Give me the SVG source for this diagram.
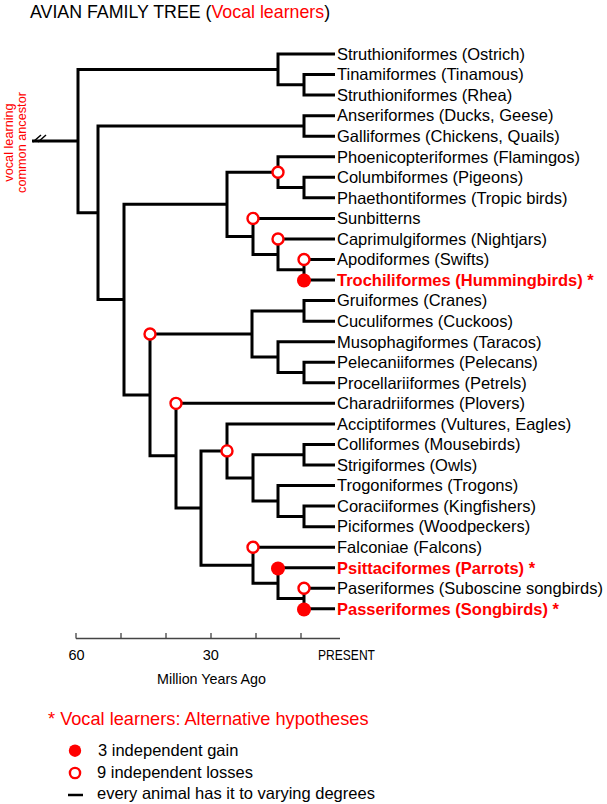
<svg xmlns="http://www.w3.org/2000/svg" width="607" height="804" viewBox="0 0 607 804">
<style>
.br{fill:none;stroke:#000;stroke-width:3;stroke-linejoin:miter}
.t{font-family:"Liberation Sans",Arial,sans-serif;font-size:16.5px;fill:#000}
.v{font-family:"Liberation Sans",Arial,sans-serif;font-size:16.5px;font-weight:bold;fill:#ff0000}
.loss{fill:#fff;stroke:#ff0000;stroke-width:2.4}
.gain{fill:#ff0000}
.red{fill:#ff0000}
.sans{font-family:"Liberation Sans",Arial,sans-serif}
</style>
<rect width="607" height="804" fill="#fff"/>
<text x="30" y="17.5" class="sans" font-size="17.8" fill="#000">AVIAN FAMILY TREE (<tspan class="red">Vocal learners</tspan>)</text>
<g id="ancestor-label" class="sans red" font-size="12.7" text-anchor="middle">
<text transform="translate(12.5,142.5) rotate(-90)">vocal learning</text>
<text transform="translate(26,142.5) rotate(-90)">common ancestor</text>
</g>
<g id="connectors">
<path class="br" d="M32 141.1 H78"/>
<path fill="none" stroke="#000" stroke-width="1.5" d="M33 142 L41 135 M38 142 L46 135"/>
<path class="br" d="M278 69.4 H78 V212.8 H98"/>
<path class="br" d="M335 54 H278 V84.8 H304"/>
<path class="br" d="M335 74.55 H304 V95.1 H335"/>
<path class="br" d="M304 125.9 H98 V299.6 H124"/>
<path class="br" d="M335 115.65 H304 V136.2 H335"/>
<path class="br" d="M227 204.3 H124 V394.9 H150"/>
<path class="br" d="M278 172.2 H227 V236.4 H253"/>
<path class="br" d="M335 156.75 H278 V187.6 H304"/>
<path class="br" d="M335 177.3 H304 V197.85 H335"/>
<path class="br" d="M335 218.4 H253 V254.4 H278"/>
<path class="br" d="M335 238.95 H278 V269.8 H304"/>
<path class="br" d="M335 259.5 H304 V280.05 H335"/>
<path class="br" d="M252 334 H150 V455.7 H176"/>
<path class="br" d="M304 310.9 H252 V357.1 H278"/>
<path class="br" d="M335 300.6 H304 V321.15 H335"/>
<path class="br" d="M335 341.7 H278 V372.5 H304"/>
<path class="br" d="M335 362.25 H304 V382.8 H335"/>
<path class="br" d="M335 403.35 H176 V508 H201"/>
<path class="br" d="M227 450.9 H201 V565.2 H253"/>
<path class="br" d="M335 423.9 H227 V477.9 H253"/>
<path class="br" d="M304 454.7 H253 V501 H278"/>
<path class="br" d="M335 444.45 H304 V465 H335"/>
<path class="br" d="M335 485.55 H278 V516.4 H304"/>
<path class="br" d="M335 506.1 H304 V526.65 H335"/>
<path class="br" d="M335 547.2 H253 V583.2 H278"/>
<path class="br" d="M335 567.75 H278 V598.6 H304"/>
<path class="br" d="M335 588.3 H304 V608.85 H335"/>
</g>
<g id="events">
<g id="loss-1"><circle class="loss" cx="278" cy="172.2" r="5.5"/></g>
<g id="loss-2"><circle class="loss" cx="253" cy="218.4" r="5.5"/></g>
<g id="loss-3"><circle class="loss" cx="278" cy="238.95" r="5.5"/></g>
<g id="loss-4"><circle class="loss" cx="304" cy="259.5" r="5.5"/></g>
<g id="gain-1"><circle class="gain" cx="304" cy="280.5" r="7"/></g>
<g id="loss-5"><circle class="loss" cx="150" cy="334" r="5.5"/></g>
<g id="loss-6"><circle class="loss" cx="176" cy="403.35" r="5.5"/></g>
<g id="loss-7"><circle class="loss" cx="227" cy="450.9" r="5.5"/></g>
<g id="loss-8"><circle class="loss" cx="253" cy="547.2" r="5.5"/></g>
<g id="gain-2"><circle class="gain" cx="278" cy="568.5" r="7"/></g>
<g id="loss-9"><circle class="loss" cx="304" cy="588.3" r="5.5"/></g>
<g id="gain-3"><circle class="gain" cx="304" cy="609.5" r="7"/></g>
</g>
<g id="leaf-ostrich"><text class="t" x="337" y="59.8">Struthioniformes (Ostrich)</text></g>
<g id="leaf-tinamou"><text class="t" x="337" y="80.3">Tinamiformes (Tinamous)</text></g>
<g id="leaf-rhea"><text class="t" x="337" y="100.9">Struthioniformes (Rhea)</text></g>
<g id="leaf-anseriformes"><text class="t" x="337" y="121.4">Anseriformes (Ducks, Geese)</text></g>
<g id="leaf-galliformes"><text class="t" x="337" y="142">Galliformes (Chickens, Quails)</text></g>
<g id="leaf-phoenicopteriformes"><text class="t" x="337" y="162.5">Phoenicopteriformes (Flamingos)</text></g>
<g id="leaf-columbiformes"><text class="t" x="337" y="183.1">Columbiformes (Pigeons)</text></g>
<g id="leaf-phaethontiformes"><text class="t" x="337" y="203.6">Phaethontiformes (Tropic birds)</text></g>
<g id="leaf-sunbitterns"><text class="t" x="337" y="224.2">Sunbitterns</text></g>
<g id="leaf-caprimulgiformes"><text class="t" x="337" y="244.7">Caprimulgiformes (Nightjars)</text></g>
<g id="leaf-apodiformes"><text class="t" x="337" y="265.3">Apodiformes (Swifts)</text></g>
<g id="leaf-trochiliformes"><text class="v" x="337" y="285.8">Trochiliformes (Hummingbirds) *</text></g>
<g id="leaf-gruiformes"><text class="t" x="337" y="306.4">Gruiformes (Cranes)</text></g>
<g id="leaf-cuculiformes"><text class="t" x="337" y="326.9">Cuculiformes (Cuckoos)</text></g>
<g id="leaf-musophagiformes"><text class="t" x="337" y="347.5">Musophagiformes (Taracos)</text></g>
<g id="leaf-pelecaniiformes"><text class="t" x="337" y="368">Pelecaniiformes (Pelecans)</text></g>
<g id="leaf-procellariiformes"><text class="t" x="337" y="388.6">Procellariiformes (Petrels)</text></g>
<g id="leaf-charadriiformes"><text class="t" x="337" y="409.1">Charadriiformes (Plovers)</text></g>
<g id="leaf-acciptiformes"><text class="t" x="337" y="429.7">Acciptiformes (Vultures, Eagles)</text></g>
<g id="leaf-colliformes"><text class="t" x="337" y="450.2">Colliformes (Mousebirds)</text></g>
<g id="leaf-strigiformes"><text class="t" x="337" y="470.8">Strigiformes (Owls)</text></g>
<g id="leaf-trogoniformes"><text class="t" x="337" y="491.3">Trogoniformes (Trogons)</text></g>
<g id="leaf-coraciiformes"><text class="t" x="337" y="511.9">Coraciiformes (Kingfishers)</text></g>
<g id="leaf-piciformes"><text class="t" x="337" y="532.4">Piciformes (Woodpeckers)</text></g>
<g id="leaf-falconiae"><text class="t" x="337" y="553">Falconiae (Falcons)</text></g>
<g id="leaf-psittaciformes"><text class="v" x="337" y="573.5">Psittaciformes (Parrots) *</text></g>
<g id="leaf-paseriformes"><text class="t" x="337" y="594.1">Paseriformes (Suboscine songbirds)</text></g>
<g id="leaf-passeriformes"><text class="v" x="337" y="614.6">Passeriformes (Songbirds) *</text></g>
<g id="axis">
<path fill="none" stroke="#444" stroke-width="1.3" d="M76 638.5 H340 M76 633 V638.5 M121 633 V638.5 M166 633 V638.5 M211 633 V638.5 M256 633 V638.5 M301 633 V638.5"/>
<text class="sans" font-size="14.5" x="76.5" y="659.5" text-anchor="middle">60</text>
<text class="sans" font-size="14.5" x="210.7" y="659.5" text-anchor="middle">30</text>
<text class="sans" font-size="14.5" x="318" y="660" textLength="57" lengthAdjust="spacingAndGlyphs">PRESENT</text>
<text class="sans" font-size="14.3" x="211.5" y="684" text-anchor="middle">Million Years Ago</text>
</g>
<g id="legend">
<text class="sans red" font-size="18.2" x="48" y="725">* Vocal learners: Alternative hypotheses</text>
<circle class="gain" cx="75" cy="750.7" r="6.2"/>
<text class="sans" font-size="16.5" x="98" y="755.7">3 independent gain</text>
<circle class="loss" cx="75" cy="773" r="5.1" stroke-width="2.2"/>
<text class="sans" font-size="16.5" x="97" y="777.5">9 independent losses</text>
<path stroke="#000" stroke-width="2.5" d="M68 795 H83"/>
<text class="sans" font-size="16.5" x="97" y="799">every animal has it to varying degrees</text>
</g>
</svg>
